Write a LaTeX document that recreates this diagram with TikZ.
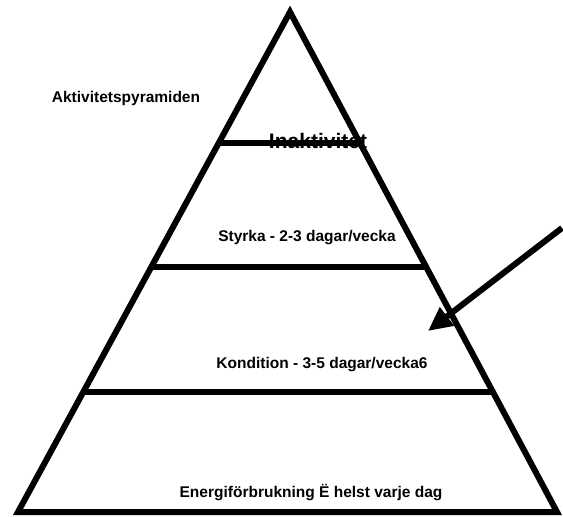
\documentclass[tikz,border=0pt]{standalone}
\usepackage{fontspec}
\setmainfont{Liberation Sans}
\usetikzlibrary{arrows.meta,calc}
\begin{document}
\begin{tikzpicture}[x=1bp,y=-1bp,
  edge/.style={line width=6bp,line join=miter,line cap=butt},
  lbl/.style={font=\bfseries\fontsize{15.5bp}{18bp}\selectfont,inner sep=0pt,anchor=center},
  biglbl/.style={lbl,font=\bfseries\fontsize{21bp}{24bp}\selectfont},
  pointer/.style={line width=6bp,-{Triangle[length=24bp,width=22bp]}}]
\useasboundingbox (0,0) rectangle (563,517);
\coordinate (apex) at (290,12);
\coordinate (bl) at (18,512);
\coordinate (br) at (557,512);
% labels
\node[lbl] (title) at (126,98) {Aktivitetspyramiden};
\node[biglbl] (inak) at (318,141) {Inaktivitet};
\node[lbl] (styrka) at (307,238) {Styrka - 2-3 dagar/vecka};
\node[lbl] (kond) at (322,365) {Kondition - 3-5 dagar/vecka6};
\node[lbl] (energi) at (311,493) {Energiförbrukning Ë helst varje dag};
% pyramid
\draw[edge] (bl) -- (apex) -- (br) -- cycle;
\draw[edge] ($(apex)!0.263!(bl)$) coordinate (l1) -- ($(apex)!0.263!(br)$) coordinate (r1);
\draw[edge] ($(apex)!0.51!(bl)$) coordinate (l2) -- ($(apex)!0.51!(br)$) coordinate (r2);
\draw[edge] ($(apex)!0.76!(bl)$) coordinate (l3) -- ($(apex)!0.76!(br)$) coordinate (r3);
% arrow
\coordinate (astart) at (562,228);
\coordinate (aend) at (428,331);
\draw[pointer] (astart) -- (aend);
\end{tikzpicture}
\end{document}
